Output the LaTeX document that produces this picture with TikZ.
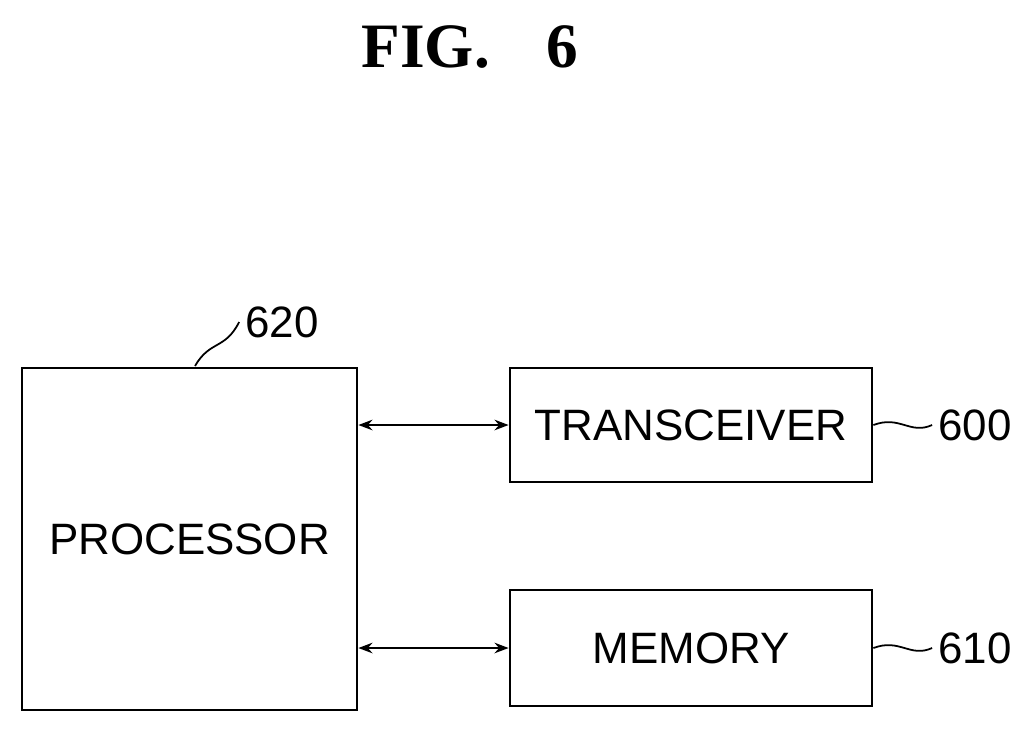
\documentclass[tikz,border=0pt]{standalone}
\usepackage{fontspec}
\setmainfont{Liberation Serif}
\setsansfont{Liberation Sans}
\usetikzlibrary{arrows.meta,positioning}

\begin{document}
\begin{tikzpicture}[
  x=0.02cm, y=-0.02cm,
  box/.style={rectangle, draw, line width=1.6pt, inner sep=0pt, font=\sffamily\fontsize{25}{28}\selectfont},
  tag/.style={font=\sffamily\fontsize{25}{28}\selectfont},
  arrow/.style={{Stealth[length=8pt,width=6pt]}-{Stealth[length=8pt,width=6pt]}, line width=1.2pt}
]
\useasboundingbox (0,0) rectangle (1032,728);

\node[font=\bfseries\fontsize{36}{40}\selectfont] (title) at (470,47) {FIG.\hspace{0.9em}6};

\node[box, minimum width=335*0.02cm, minimum height=342*0.02cm] (proc) at (189.5,539) {PROCESSOR};
\node[box, minimum width=362*0.02cm, minimum height=114*0.02cm] (trx) at (691,425) {TRANSCEIVER};
\node[box, minimum width=362*0.02cm, minimum height=116*0.02cm] (mem) at (691,648) {MEMORY};

\node[tag] (l620) at (282,322) {620};
\node[tag] (l600) at (975,425) {600};
\node[tag] (l610) at (975,648) {610};

\draw[arrow] (proc.east |- trx.west) -- (trx.west);
\draw[arrow] (proc.east |- mem.west) -- (mem.west);

% reference leaders
\draw[line width=1pt] (195,366) .. controls (210,340) and (225,350) .. (l620.west);
\draw[line width=1pt] (trx.east) .. controls (900,415) and (910,435) .. (l600.west);
\draw[line width=1pt] (mem.east) .. controls (900,638) and (910,658) .. (l610.west);
\end{tikzpicture}
\end{document}
